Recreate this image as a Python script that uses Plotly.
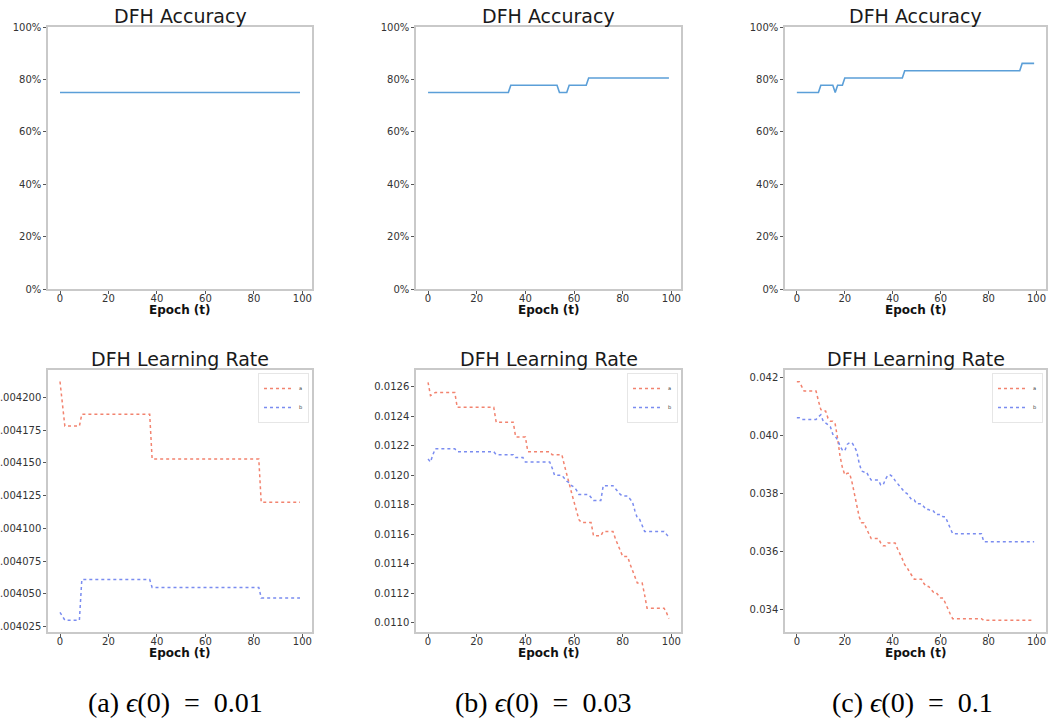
import plotly.graph_objects as go

# ---------------- data ----------------
epochs = list(range(100))

acc_a = [0.75] * 100
acc_b = [0.75] * 34 + [0.7778] * 20 + [0.75] * 4 + [0.7778] * 8 + [0.8056] * 34
acc_c = [0.75] * 10 + [0.7778] * 6 + [0.75] + [0.7778] * 3 + [0.8056] * 25 + [0.8333] * 49 + [0.8611] * 6

lr_a_eps001 = [0.004212, 0.004195] + [0.004178] * 7 + [0.004187] * 29 + [0.004153] * 45 + [0.004120] * 17
lr_b_eps001 = [0.004036, 0.004033] + [0.004030] * 7 + [0.004061] * 29 + [0.004055] * 45 + [0.004047] * 17

lr_a_eps003 = ([0.01263, 0.01254, 0.01255] + [0.01256] * 9 + [0.01246] * 16 + [0.01236] * 8
               + [0.01226] * 5 + [0.01216] * 10 + [0.01214] * 5
               + [0.01207, 0.01200, 0.01194, 0.01188, 0.01182, 0.01176, 0.01170]
               + [0.01168] * 5 + [0.01159] * 4 + [0.01162] * 5
               + [0.01157, 0.01153, 0.01149] + [0.01145] * 3
               + [0.01140, 0.01136, 0.01131] + [0.01127] * 3 + [0.01119]
               + [0.01110] * 8 + [0.01107, 0.01103])
lr_b_eps003 = ([0.01211, 0.01209, 0.01214] + [0.01218] * 9 + [0.01216] * 16 + [0.01214] * 8
               + [0.01212] * 4 + [0.01209] * 11 + [0.01205] + [0.01200] * 4
               + [0.01198, 0.01196, 0.01195, 0.01193, 0.01192, 0.01190]
               + [0.01187] * 5 + [0.01185] + [0.01183] * 4 + [0.01193] * 5
               + [0.01191, 0.01189, 0.01187] + [0.01186] * 3
               + [0.01184, 0.01182, 0.01176, 0.01171, 0.01170, 0.01166]
               + [0.01162] * 9 + [0.01160, 0.01158])

lr_a_eps01 = ([0.04186] * 2 + [0.04170] + [0.04154] * 6 + [0.04120, 0.04090] + [0.04085] * 2
              + [0.04060] + [0.04050] * 2 + [0.04040, 0.03990, 0.03930, 0.03890, 0.03865]
              + [0.03870] * 2 + [0.03840, 0.03800, 0.03760, 0.03720] + [0.03700] * 2
              + [0.03680, 0.03660] + [0.03645] * 4 + [0.03630] + [0.03620] * 2 + [0.03630] * 4
              + [0.03610, 0.03595, 0.03575, 0.03555, 0.03545, 0.03530, 0.03515]
              + [0.03505] * 4 + [0.03490] + [0.03480] * 2 + [0.03470] + [0.03460] * 2
              + [0.03450] + [0.03440] * 2 + [0.03420, 0.03400, 0.03385]
              + [0.03369] * 13 + [0.03363] * 22)
lr_b_eps01 = ([0.04062] * 2 + [0.04056] * 7 + [0.04065, 0.04072]
              + [0.04050, 0.04045, 0.04038, 0.04030, 0.04005, 0.03998, 0.03985, 0.03965, 0.03950]
              + [0.03948, 0.03970] + [0.03976] * 2 + [0.03962, 0.03945, 0.03905, 0.03878]
              + [0.03875] * 2 + [0.03860] + [0.03847] * 4 + [0.03830] * 2 + [0.03850]
              + [0.03864] * 2 + [0.03858, 0.03845, 0.03835, 0.03825, 0.03815, 0.03805, 0.03800, 0.03790]
              + [0.03778] * 2 + [0.03765] * 3 + [0.03755] + [0.03745] * 2 + [0.03740] * 2
              + [0.03728] * 3 + [0.03720] * 2 + [0.03700, 0.03680]
              + [0.03662] * 13 + [0.03634] * 22)

acc_series = [acc_a, acc_b, acc_c]
lr_series = [(lr_a_eps001, lr_b_eps001), (lr_a_eps003, lr_b_eps003), (lr_a_eps01, lr_b_eps01)]
legend_names = ["a", "b"]
captions = ["(a) <i>ϵ</i>(0)\u2002=\u20020.01", "(b) <i>ϵ</i>(0)\u2002=\u20020.03",
            "(c) <i>ϵ</i>(0)\u2002=\u20020.1"]
x_ticks = [0, 20, 40, 60, 80, 100]
acc_ticks = [0, 0.2, 0.4, 0.6, 0.8, 1.0]
lr_ticks = [
    [0.004025, 0.004050, 0.004075, 0.004100, 0.004125, 0.004150, 0.004175, 0.004200],
    [0.0110, 0.0112, 0.0114, 0.0116, 0.0118, 0.0120, 0.0122, 0.0124, 0.0126],
    [0.034, 0.036, 0.038, 0.040, 0.042],
]
# tick label text as visible in the figure (first panel shows labels without the leading zero)
lr_ticktext = [
    [f"{v:.6f}"[1:] for v in lr_ticks[0]],
    [f"{v:.4f}" for v in lr_ticks[1]],
    [f"{v:.3f}" for v in lr_ticks[2]],
]
lr_ranges = [[0.004021, 0.0042208], [0.010939, 0.012713], [0.033229, 0.042265]]

# ---------------- layout ----------------
W, H = 1049, 722
col_px = [(48, 312), (416, 681), (785, 1046)]
top_px = (27, 289)
bot_px = (370, 632)
caption_cx = [175, 543, 912]

RED = "#f2836f"
BLUE = "#7a8cf0"
ACC = "#5b9fd8"
FRAME = "#c9c9c9"
FONT = "DejaVu Sans"

fig = go.Figure()
annotations = []


def xdom(c):
    return [col_px[c][0] / W, col_px[c][1] / W]


def ydom(p):
    return [1 - p[1] / H, 1 - p[0] / H]


axis_common = dict(
    showline=True, linecolor=FRAME, linewidth=1.5, mirror=True,
    ticks="outside", ticklen=3, tickcolor="#555", tickwidth=1,
    showgrid=False, zeroline=False, automargin=False,
    tickfont=dict(family=FONT, size=10, color="#333"),
)

for c in range(3):
    i_top = 2 * c + 1
    i_bot = 2 * c + 2
    xa_t = "x" if i_top == 1 else f"x{i_top}"
    ya_t = "y" if i_top == 1 else f"y{i_top}"
    fig.add_trace(go.Scatter(x=epochs, y=acc_series[c], mode="lines",
                             line=dict(color=ACC, width=1.6), showlegend=False,
                             xaxis=xa_t, yaxis=ya_t))
    leg = "legend" if c == 0 else f"legend{c + 1}"
    for s, (vals, col) in enumerate(zip(lr_series[c], [RED, BLUE])):
        fig.add_trace(go.Scatter(x=epochs, y=vals, mode="lines", name=legend_names[s],
                                 line=dict(color=col, width=1.5, dash="dot"),
                                 showlegend=True, legend=leg,
                                 xaxis=f"x{i_bot}", yaxis=f"y{i_bot}"))

    xname_t = "xaxis" if i_top == 1 else f"xaxis{i_top}"
    yname_t = "yaxis" if i_top == 1 else f"yaxis{i_top}"
    fig.layout[xname_t] = dict(domain=xdom(c), anchor=ya_t, range=[-4.95, 103.95],
                               tickvals=x_ticks, ticklabelstandoff=-4, **axis_common)
    fig.layout[yname_t] = dict(domain=ydom(top_px), anchor=xa_t, range=[0, 1],
                               tickvals=acc_ticks, tickformat=".0%", **axis_common)
    fig.layout[f"xaxis{i_bot}"] = dict(domain=xdom(c), anchor=f"y{i_bot}", range=[-4.95, 103.95],
                                       tickvals=x_ticks, ticklabelstandoff=-4, **axis_common)
    fig.layout[f"yaxis{i_bot}"] = dict(domain=ydom(bot_px), anchor=f"x{i_bot}", range=lr_ranges[c],
                                       tickvals=lr_ticks[c], ticktext=lr_ticktext[c],
                                       **axis_common)

    cx = (col_px[c][0] + col_px[c][1]) / 2 / W
    for ty, txt in [(16, "DFH Accuracy"), (359, "DFH Learning Rate")]:
        annotations.append(dict(text=txt, x=cx, y=1 - ty / H, xref="paper", yref="paper",
                                showarrow=False, xanchor="center", yanchor="middle",
                                font=dict(family=FONT, size=19, color="#1a1a1a")))
    for ty in (310, 653):
        annotations.append(dict(text="<b>Epoch (t)</b>", x=cx, y=1 - ty / H, xref="paper",
                                yref="paper", showarrow=False, xanchor="center", yanchor="middle",
                                font=dict(family=FONT, size=12, color="#111")))
    annotations.append(dict(text=captions[c], x=caption_cx[c] / W, y=1 - 702 / H, xref="paper",
                            yref="paper", showarrow=False, xanchor="center", yanchor="middle",
                            font=dict(family="Liberation Serif", size=28, color="#000")))

    fig.layout[leg] = dict(x=(col_px[c][1] - 3) / W, y=1 - (bot_px[0] + 3) / H,
                           xanchor="right", yanchor="top",
                           font=dict(family=FONT, size=5, color="#333"),
                           bgcolor="rgba(255,255,255,0.9)", bordercolor="#e6e6e6", borderwidth=1,
                           itemwidth=30, tracegroupgap=0)

fig.update_layout(
    width=W, height=H,
    margin=dict(l=0, r=0, t=0, b=0),
    paper_bgcolor="white", plot_bgcolor="white",
    annotations=annotations,
)

fig.write_html("out.html")
